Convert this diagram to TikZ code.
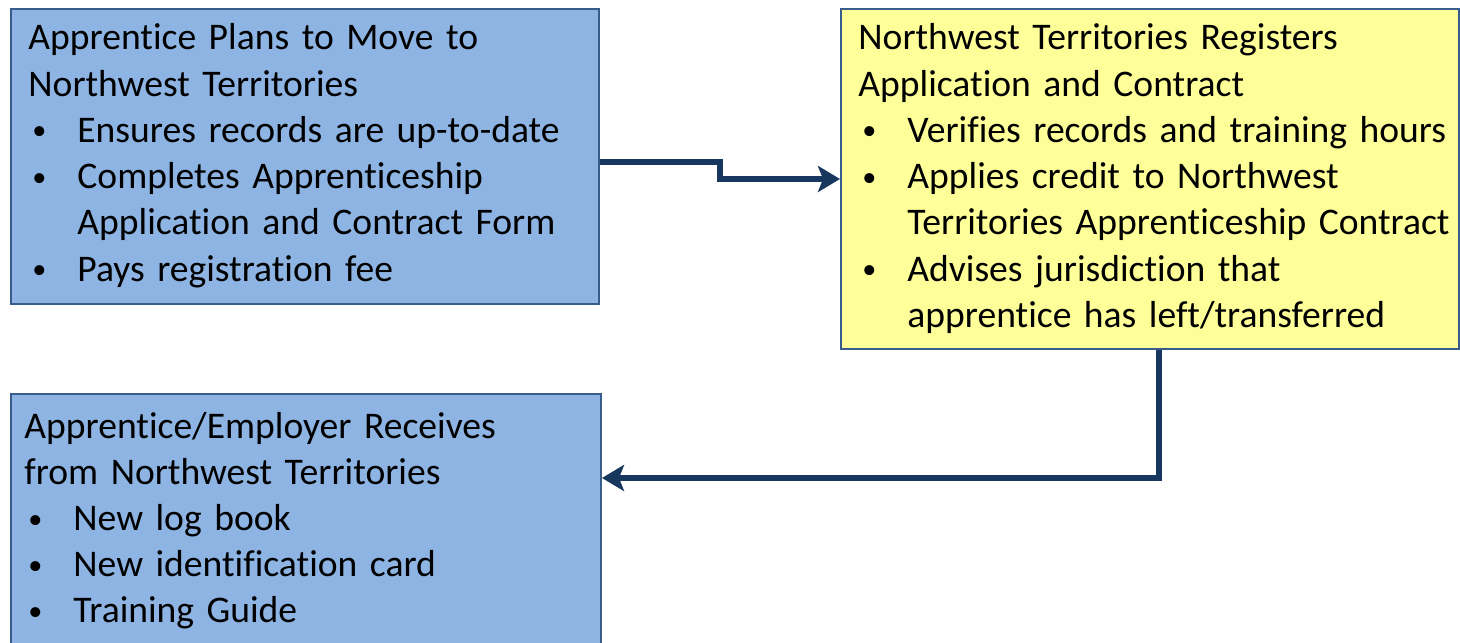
\documentclass[tikz,border=0pt]{standalone}
\usepackage{fontspec}
\usepackage{graphicx}
\setmainfont{Carlito}[Ligatures=NoCommon]
\usetikzlibrary{arrows.meta,positioning}
\definecolor{boxblue}{RGB}{141,180,226}
\definecolor{boxyellow}{RGB}{255,255,153}
\definecolor{edgeblue}{RGB}{56,93,138}
\definecolor{arrownavy}{RGB}{23,55,94}
\newcommand{\bpt}[1]{\par\hangindent=24.5pt\hangafter=1\noindent\makebox[24.5pt][l]{\hspace{2pt}\raisebox{1.2pt}{\scalebox{0.75}{\textbullet}}}#1}

\begin{document}
\begin{tikzpicture}[x=0.5pt, y=-0.5pt,
  panel/.style={draw=edgeblue, line width=1pt, anchor=north west, inner sep=0pt},
  body/.style={anchor=base west, inner sep=0pt, text width=330pt,
    font=\fontsize{18.8}{23.1}\selectfont},
  flow/.style={draw=arrownavy, line width=3pt, -{Stealth[length=11pt,width=13pt,inset=2.5pt]}}]
\useasboundingbox (0,0) rectangle (1460,642);

% the three panels
\node[panel, fill=boxblue, minimum width=294pt, minimum height=147.5pt] (plan) at (10,8) {};
\node[panel, fill=boxyellow, minimum width=309pt, minimum height=170pt] (reg) at (840,8) {};
\node[panel, fill=boxblue, minimum width=295pt, minimum height=127.5pt] (recv) at (10,393) {};

\node[body] (plantxt) at ([xshift=9pt,yshift=-21pt]plan.north west)
  {\raggedright\noindent Apprentice Plans to Move to\newline Northwest Territories
   \bpt{Ensures records are up-to-date}
   \bpt{Completes Apprenticeship\newline Application and Contract Form}
   \bpt{Pays registration fee}\par};
\node[body] (regtxt) at ([xshift=9pt,yshift=-21pt]reg.north west)
  {\raggedright\noindent Northwest Territories Registers\newline Application and Contract
   \bpt{Verifies records and training hours}
   \bpt{Applies credit to Northwest\newline Territories Apprenticeship Contract}
   \bpt{Advises jurisdiction that\newline apprentice has left/transferred}\par};
\node[body] (recvtxt) at ([xshift=7pt,yshift=-22.5pt]recv.north west)
  {\raggedright\noindent Apprentice/Employer Receives\newline from Northwest Territories
   \bpt{New log book}
   \bpt{New identification card}
   \bpt{Training Guide}\par};

% connectors
\draw[flow] ([yshift=-2.5pt]plan.east) -| ([xshift=-60pt]reg.west) |- (reg.west);
\draw[flow] ([xshift=4.5pt]reg.south) |- ([yshift=-42.5pt]recv.north east);
\end{tikzpicture}
\end{document}
